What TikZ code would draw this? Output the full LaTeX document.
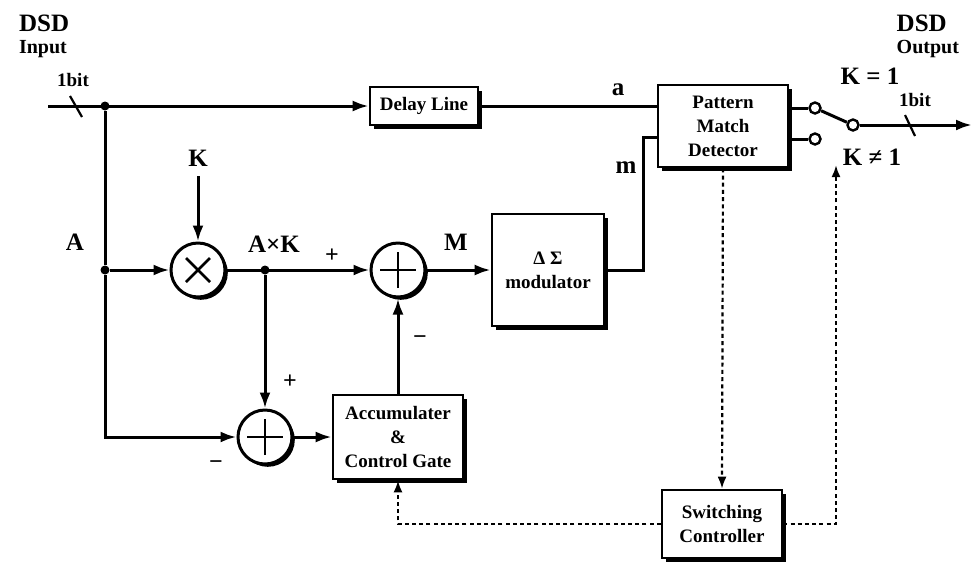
\documentclass[tikz,border=0pt]{standalone}
\usepackage{fontspec}
\setmainfont{Liberation Serif}
\usepackage{tikz}
\usetikzlibrary{arrows.meta,positioning,shadows,calc}

\begin{document}
\begin{tikzpicture}[x=0.5pt,y=-0.5pt, every node/.style={font=\bfseries\fontsize{9.5}{12}\selectfont,align=center}]
\tikzset{blk/.style={draw,line width=1.3pt,fill=white,inner sep=2pt,drop shadow={fill=black,opacity=1,shadow xshift=1.8pt,shadow yshift=-1.8pt}},
  sumnode/.style={circle,draw,line width=1.5pt,fill=white,minimum size=27pt,inner sep=0pt,drop shadow={fill=black,opacity=1,shadow xshift=1.4pt,shadow yshift=-1.4pt},
    path picture={\draw[line width=1.3pt] ($(path picture bounding box.center)+(-9pt,0)$) -- ($(path picture bounding box.center)+(9pt,0)$) ($(path picture bounding box.center)+(0,-9pt)$) -- ($(path picture bounding box.center)+(0,9pt)$);}},
  multnode/.style={circle,draw,line width=1.5pt,fill=white,minimum size=27pt,inner sep=0pt,drop shadow={fill=black,opacity=1,shadow xshift=1.4pt,shadow yshift=-1.4pt},
    path picture={\draw[line width=1.3pt] ($(path picture bounding box.center)+(-6pt,-6pt)$) -- ($(path picture bounding box.center)+(6pt,6pt)$) ($(path picture bounding box.center)+(-6pt,6pt)$) -- ($(path picture bounding box.center)+(6pt,-6pt)$);}},
  sig/.style={line width=1.5pt,-{Latex[length=8pt,width=5.5pt]}},
  wire/.style={line width=1.5pt},
  ctl/.style={line width=1.1pt,dash pattern=on 2pt off 1.6pt,-{Latex[length=6pt,width=4.5pt]}},
  jdot/.style={circle,fill=black,inner sep=0pt,minimum size=4.5pt},
  term/.style={circle,draw,line width=1.2pt,fill=white,inner sep=0pt,minimum size=5.5pt},
  lbl/.style={font=\bfseries\fontsize{12.5}{13}\selectfont},
  sgn/.style={font=\bfseries\fontsize{12}{13}\selectfont}}
\useasboundingbox (0,0) rectangle (973,563);

% blocks
\node[blk,minimum width=54pt,minimum height=19pt] (dl) at (424,106) {Delay Line};
\node[blk,minimum width=65pt,minimum height=41pt,inner sep=1pt] (pmd) at (723,126) {Pattern\\Match\\Detector};
\node[blk,minimum width=56pt,minimum height=56pt] (dsm) at (548,270) {Δ Σ\\modulator};
\node[blk,minimum width=65pt,minimum height=42pt,inner sep=1pt] (acc) at (398,437) {Accumulater\\\&\\Control Gate};
\node[blk,minimum width=60pt,minimum height=34pt] (swc) at (722,524) {Switching\\Controller};
\node[multnode] (mul) at (198,270) {};
\node[sumnode] (sa) at (398,270) {};
\node[sumnode] (sb) at (265,437) {};

% junctions and terminals
\coordinate (in) at (48,106);
\coordinate (kin) at (198,176);
\coordinate (mk) at (643,137);
\coordinate (swk) at (836,165);
\coordinate (out) at (972,125);
\node[jdot] (ji) at (105,106) {};
\node[jdot] (ja) at (105,270) {};
\node[jdot] (jak) at (265,270) {};
\node[term] (tu) at (815,108) {};
\node[term] (tl) at (815,139) {};
\node[term] (pv) at (853,125) {};

% signal paths
\draw[sig] (in) -- (dl.west);
\draw[wire] (ji) -- (ja);
\draw[sig] (ja) |- (sb.west);
\draw[sig] (ja) -- (mul.west);
\draw[sig] (kin) -- (mul.north);
\draw[sig] (mul.east) -- (sa.west);
\draw[sig] (jak) -- (sb.north);
\draw[sig] (sa.east) -- (dsm.west);
\draw[sig] (sb.east) -- (acc.west);
\draw[sig] (acc.north) -- (sa.south);
\draw[wire] (dl.east) -- (dl.east -| pmd.west);
\draw[wire] (dsm.east) -| (mk) -- (mk -| pmd.west);
\draw[wire] (tu -| pmd.east) -- (tu);
\draw[wire] (tl -| pmd.east) -- (tl);
\draw[wire] (tu) -- (pv);
\draw[sig] (pv) -- (out);
\draw[line width=1.1pt] (70,96) -- (82,117);
\draw[line width=1.1pt] (905,115) -- (915,136);

% control paths
\draw[ctl] (pmd.south) -- (swc.north);
\draw[ctl] (swc.west) -| (acc.south);
\draw[ctl] (swc.east) -| (swk);

% labels
\node[anchor=north west,align=left,lbl] (inl) at (12,8) {DSD\\[-2pt]{\fontsize{10}{11}\selectfont Input}};
\node[anchor=north east,align=left,lbl] (outl) at (966,8) {DSD\\[-2pt]{\fontsize{10}{11}\selectfont Output}};
\node (b1) at (73,80) {1bit};
\node (b2) at (915,100) {1bit};
\node[lbl] (la) at (618,90) {a};
\node[lbl] (lm) at (626,168) {m};
\node[lbl] (lA) at (75,242) {A};
\node[lbl] (lK) at (198,158) {K};
\node[lbl] (lAK) at (274,244) {A×K};
\node[lbl] (lM) at (456,242) {M};
\node[sgn] (p1) at (332,256) {+};
\node[sgn] (p2) at (290,382) {+};
\node[sgn] (m1) at (420,340) {−};
\node[sgn] (m2) at (216,465) {−};
\node[lbl] (k1) at (870,76) {K = 1};
\node[lbl] (k2) at (872,157) {K ≠ 1};
\end{tikzpicture}
\end{document}
